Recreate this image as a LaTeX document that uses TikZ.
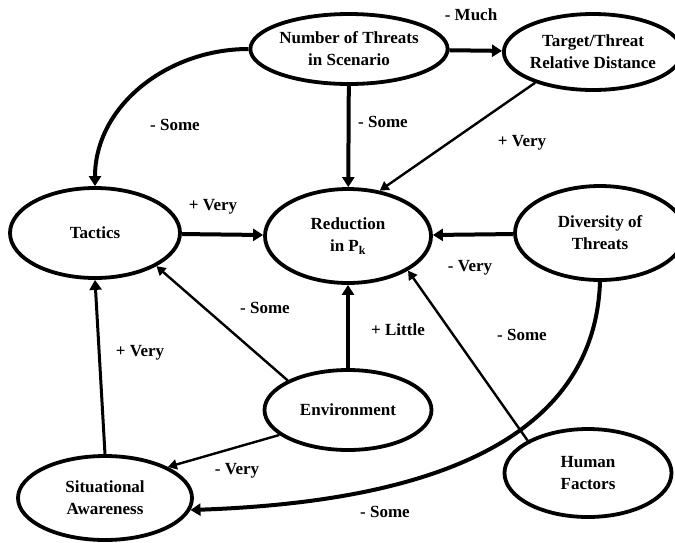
\documentclass[tikz,border=0pt]{standalone}
\usepackage{fontspec}
\setmainfont{Liberation Serif}
\usetikzlibrary{shapes.geometric,arrows.meta}

\tikzset{
  factor/.style={draw, ellipse, line width=3.8pt, align=center, inner sep=0pt,
    font=\fontsize{17}{22}\selectfont\bfseries},
  lbl/.style={font=\fontsize{17}{22}\selectfont\bfseries},
  strong/.style={line width=4pt, -{Triangle[width=12pt,length=10pt]}},
  weak/.style={line width=2.4pt, -{Triangle[width=10pt,length=9pt]}}
}

\begin{document}
\begin{tikzpicture}[x=1pt,y=-1pt]
  \useasboundingbox (0,0) rectangle (675,542);
  \node[factor, minimum width=172pt, minimum height=70pt] (threats) at (349,49) {Number of Threats\\in Scenario};
  \node[factor, minimum width=160pt, minimum height=76pt] (target) at (593,52) {Target/Threat\\Relative Distance};
  \node[factor, minimum width=170pt, minimum height=90pt] (tactics) at (95,233) {Tactics};
  \node[factor, minimum width=166pt, minimum height=94pt] (reduct) at (348,236) {Reduction\\in P\textsubscript{k}};
  \node[factor, minimum width=170pt, minimum height=94pt] (divers) at (600,233) {Diversity of\\Threats};
  \node[factor, minimum width=167pt, minimum height=80pt] (environ) at (348,410) {Environment};
  \node[factor, minimum width=174pt, minimum height=84pt] (situ) at (105,498) {Situational\\Awareness};
  \node[factor, minimum width=167pt, minimum height=88pt] (human) at (588,473) {Human\\Factors};

  \draw[strong] (threats) -- (target);
  \draw[strong] (threats) -- (reduct);
  \draw[strong] (threats.west) to[out=180, in=90] (tactics.north);
  \draw[weak] (target.208) -- (reduct.55);
  \draw[strong] (tactics) -- (reduct);
  \draw[strong] (divers) -- (reduct);
  \draw[strong] (environ) -- (reduct);
  \draw[weak] (environ.north west) -- (tactics.south east);
  \draw[weak] (environ.200) -- (situ.north east);
  \draw[strong, line width=3pt] (situ.north) -- (tactics.south);
  \draw[weak] (human.north west) -- (reduct.south east);
  \draw[strong] (divers.south) to[out=-92, in=2] (situ.-8);

  \node[lbl] (much) at (471,15) {- Much};
  \node[lbl] (some1) at (175,125) {- Some};
  \node[lbl] (some2) at (383,122) {- Some};
  \node[lbl] (very1) at (522,143) {+ Very};
  \node[lbl] (very2) at (213,207) {+ Very};
  \node[lbl] (very3) at (470,268) {- Very};
  \node[lbl] (some3) at (265,308) {- Some};
  \node[lbl] (little) at (398,330) {+ Little};
  \node[lbl] (some4) at (522,335) {- Some};
  \node[lbl] (very4) at (140,353) {+ Very};
  \node[lbl] (very5) at (237,471) {- Very};
  \node[lbl] (some5) at (385,512) {- Some};
\end{tikzpicture}
\end{document}
